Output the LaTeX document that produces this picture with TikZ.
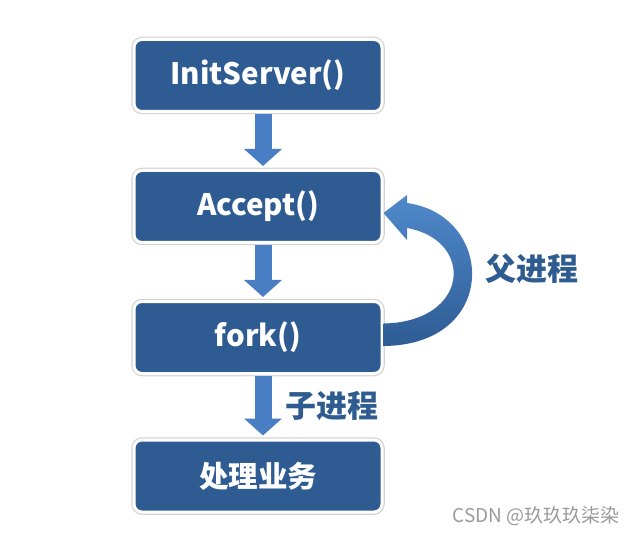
\documentclass[tikz,border=0pt]{standalone}
\usepackage{fontspec}
\setmainfont{Noto Sans CJK SC}
\usetikzlibrary{arrows.meta,positioning}
\definecolor{stageblue}{HTML}{2F5B93}
\definecolor{stageedge}{HTML}{D4D4D4}
\definecolor{flowblue}{HTML}{4A7EC4}
\definecolor{flowlight}{HTML}{5089CB}
\definecolor{flowdark}{HTML}{2E5C94}
\definecolor{tagblue}{HTML}{2F5C90}
\definecolor{markgray}{HTML}{9A9A9A}
\tikzset{
  stage/.style={
    draw=white,
    line width=3pt,
    rounded corners=8pt,
    fill=stageblue,
    minimum width=248pt,
    minimum height=72pt,
    text=white,
    font=\bfseries\fontsize{29.5}{32}\selectfont,
    preaction={draw=stageedge,line width=5.5pt}
  },
  flow/.style={-{Triangle[width=37pt,length=17pt]},line width=17pt,draw=flowblue,shorten >=3pt,shorten <=1pt},
  tag/.style={text=tagblue,font=\bfseries\fontsize{31}{34}\selectfont}
}

\begin{document}
\begin{tikzpicture}[x=1pt,y=-1pt]
  \useasboundingbox (0,0) rectangle (639,534);

  \node[stage] (init) at (258,75.5) {InitServer()};
  \node[stage, below=56pt of init] (accept) {Accept()};
  \node[stage, below=56pt of accept] (fork) {fork()};
  \node[stage, below=63.5pt of fork] (handle) {处理业务};

  \draw[flow] ([xshift=5pt]init.south) -- ([xshift=5pt]accept.north);
  \draw[flow] ([xshift=5pt]accept.south) -- ([xshift=5pt]fork.north);
  \draw[flow] ([xshift=5pt]fork.south) -- ([xshift=5pt]handle.north);

  % parent loops back to accept
  \shade[top color=flowlight,bottom color=flowdark]
    ([yshift=14pt]fork.east) .. controls (470,322) and (475,240) .. (407,228)
    -- (407,240) -- ([yshift=-6.5pt]accept.east) -- (407,195) -- (407,203)
    .. controls (495,215) and (500,345) .. ([yshift=-8.5pt]fork.east) -- cycle;

  \node[tag] (parent) at (532,269) {父进程};
  \node[tag] (child) at (332,406) {子进程};

  \node[text=markgray,font=\fontsize{19}{21}\selectfont,anchor=east] (mark) at (623,516) {CSDN @玖玖玖柒染};
\end{tikzpicture}
\end{document}
